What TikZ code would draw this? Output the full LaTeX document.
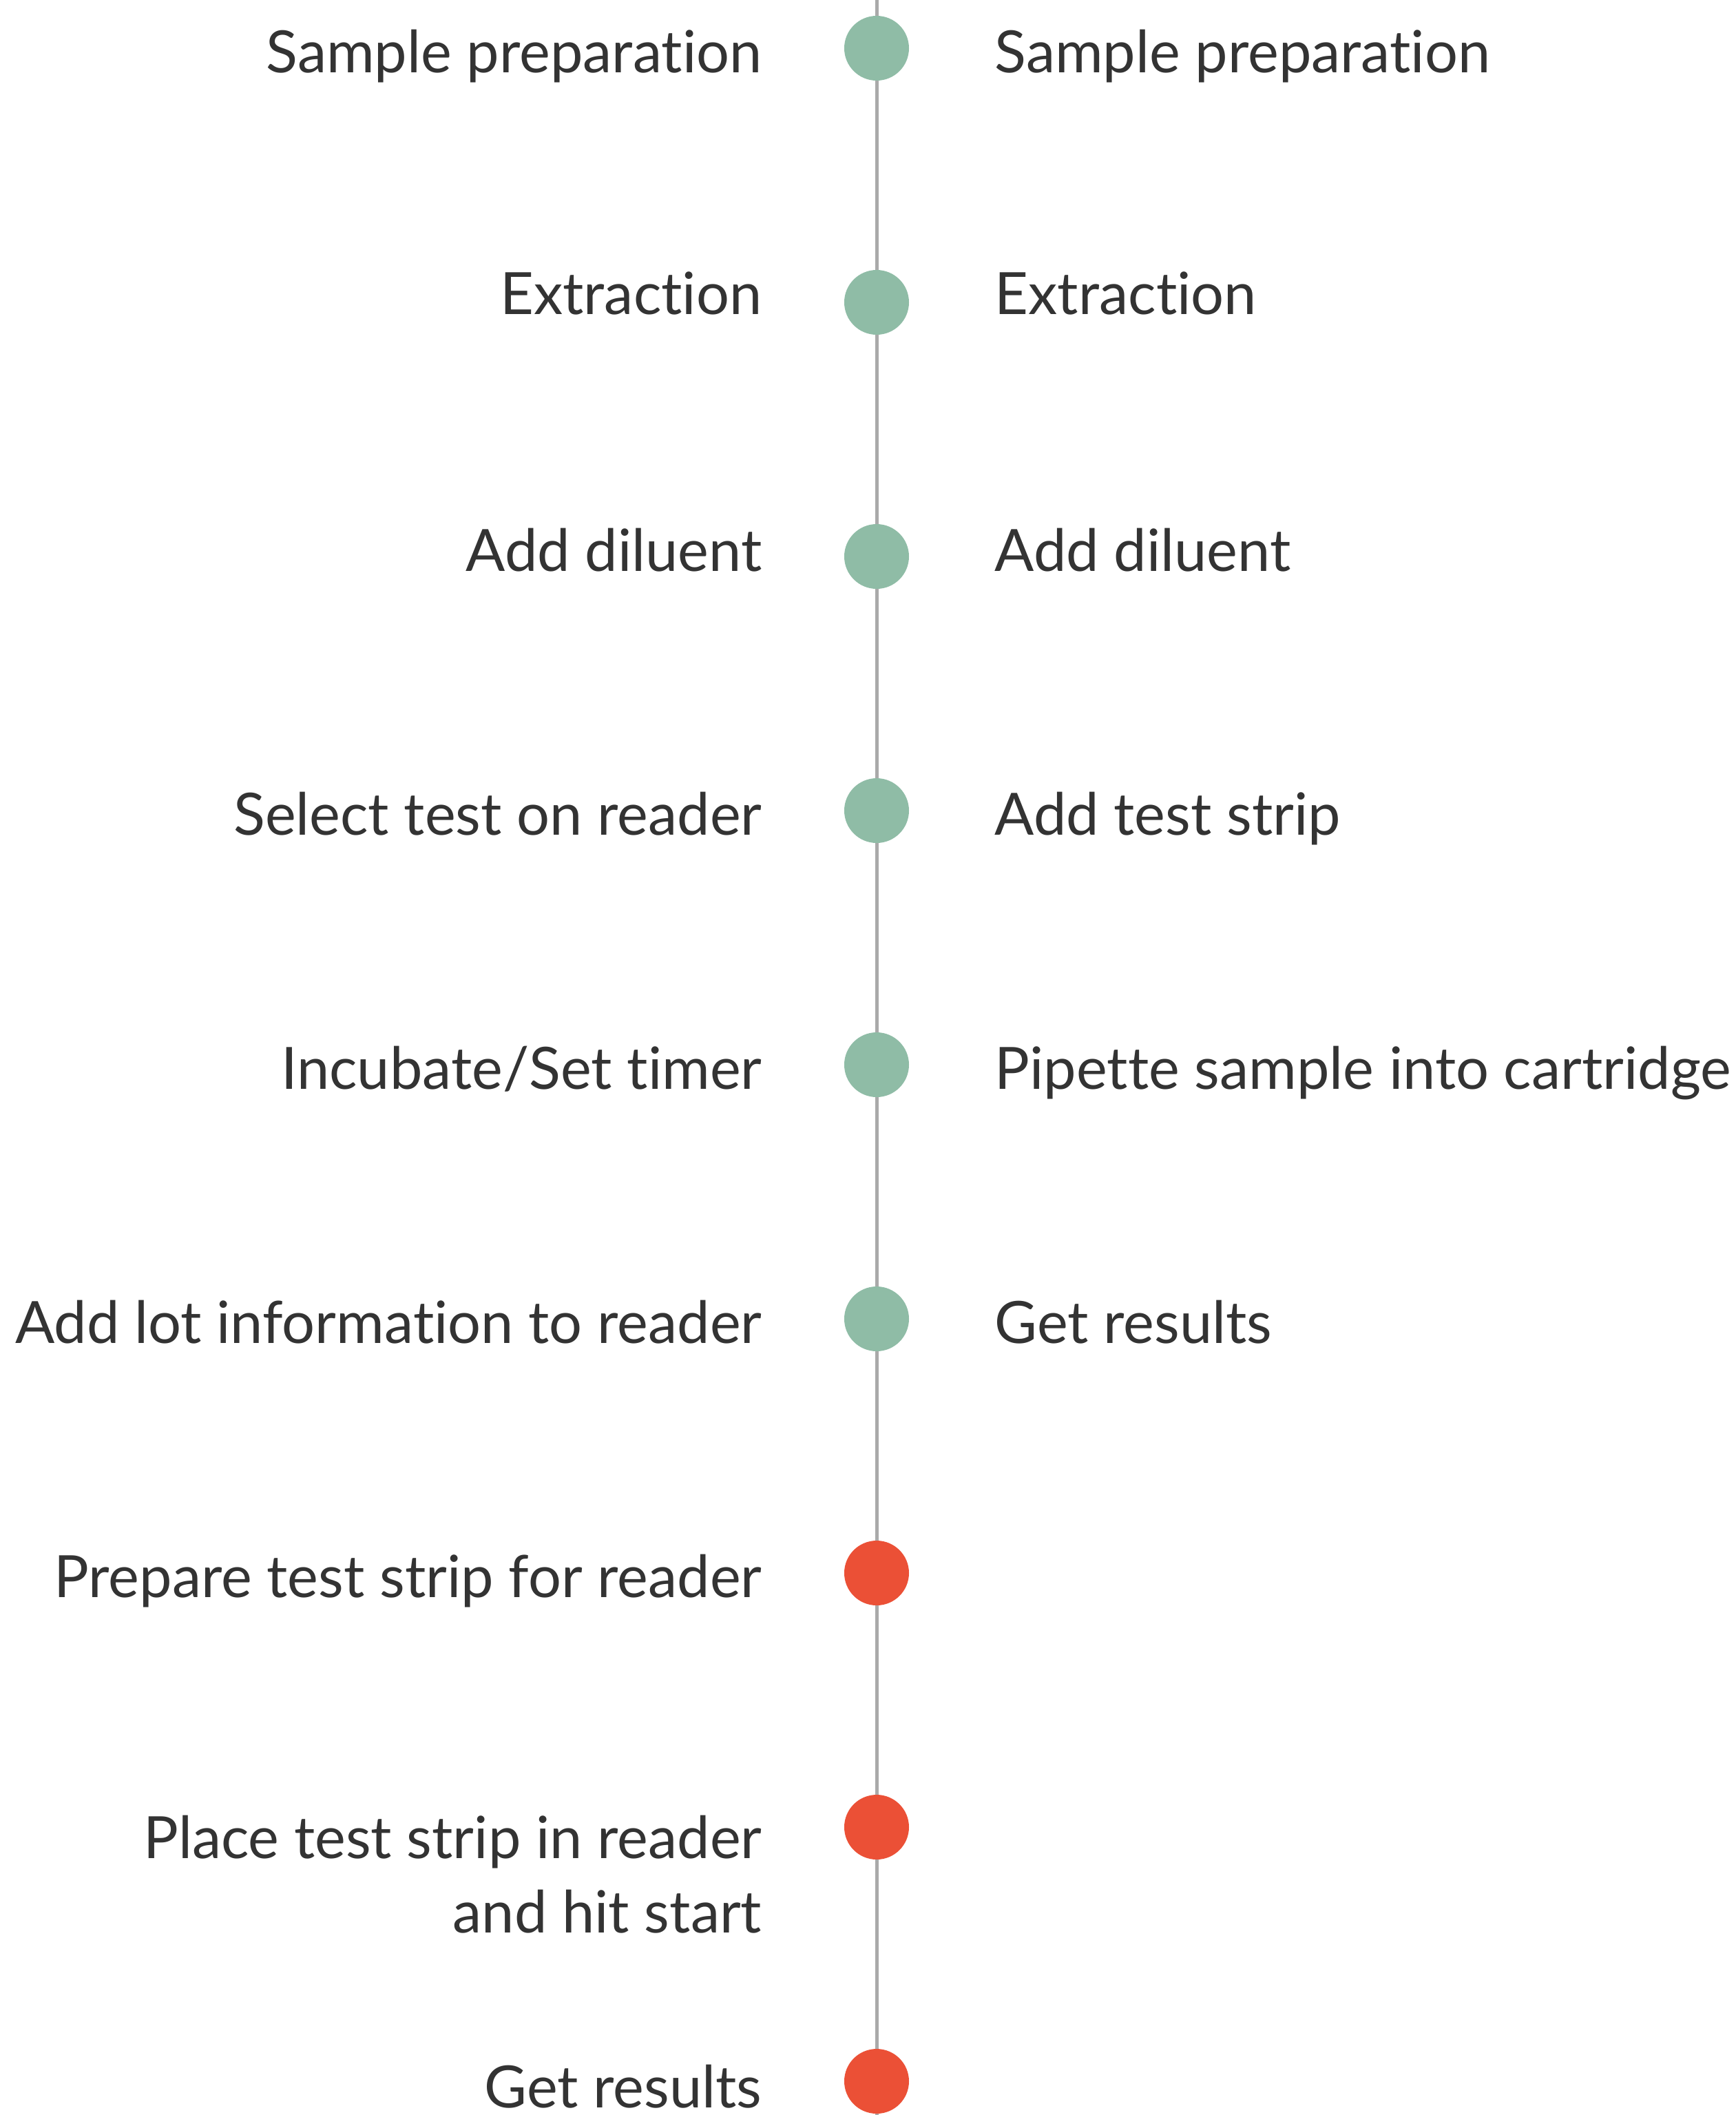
\documentclass[tikz,border=0pt]{standalone}
\usepackage{fontspec}
\setmainfont[Ligatures=NoCommon]{Lato}
\usepackage{tikz}

\definecolor{stepgreen}{HTML}{8FBCA6}
\definecolor{stepred}{HTML}{EB5036}
\definecolor{railgray}{HTML}{AAAAAA}
\definecolor{labelgray}{HTML}{333333}

\tikzset{
    lefttext/.style={anchor=base east, text=labelgray, inner sep=0pt,
        font=\fontsize{24.1}{30.7}\selectfont, align=right},
    righttext/.style={anchor=base west, text=labelgray, inner sep=0pt,
        font=\fontsize{24.1}{30.7}\selectfont}
}

\begin{document}
\begin{tikzpicture}
    \useasboundingbox (0,0) rectangle (25.21,-30.71);

    \coordinate (top) at (12.73,0);
    \coordinate (bottom) at (12.73,-30.71);
    \draw[railgray, line width=4pt/2.8] (top) -- (bottom);

    \fill[stepgreen] (12.73,-0.70) circle (0.47);
    \fill[stepgreen] (12.73,-4.39) circle (0.47);
    \fill[stepgreen] (12.73,-8.08) circle (0.47);
    \fill[stepgreen] (12.73,-11.77) circle (0.47);
    \fill[stepgreen] (12.73,-15.46) circle (0.47);
    \fill[stepgreen] (12.73,-19.15) circle (0.47);
    \fill[stepred] (12.73,-22.84) circle (0.47);
    \fill[stepred] (12.73,-26.53) circle (0.47);
    \fill[stepred] (12.73,-30.22) circle (0.47);

    % left column
    \node[lefttext] (l1) at (11.07,-1.05) {Sample preparation};
    \node[lefttext] (l2) at (11.07,-4.56) {Extraction};
    \node[lefttext] (l3) at (11.07,-8.29) {Add diluent};
    \node[lefttext] (l4) at (11.07,-12.12) {Select test on reader};
    \node[lefttext] (l5) at (11.07,-15.81) {Incubate/Set timer};
    \node[lefttext] (l6) at (11.07,-19.50) {Add lot information to reader};
    \node[lefttext] (l7) at (11.07,-23.19) {Prepare test strip for reader};
    \node[lefttext] (l8) at (11.07,-28.06) {Place test strip in reader\\and hit start};
    \node[lefttext] (l9) at (11.07,-30.60) {Get results};

    % right column
    \node[righttext] (r1) at (14.44,-1.05) {Sample preparation};
    \node[righttext] (r2) at (14.44,-4.56) {Extraction};
    \node[righttext] (r3) at (14.44,-8.29) {Add diluent};
    \node[righttext] (r4) at (14.44,-12.12) {Add test strip};
    \node[righttext] (r5) at (14.44,-15.81) {Pipette sample into cartridge};
    \node[righttext] (r6) at (14.44,-19.50) {Get results};
\end{tikzpicture}
\end{document}
